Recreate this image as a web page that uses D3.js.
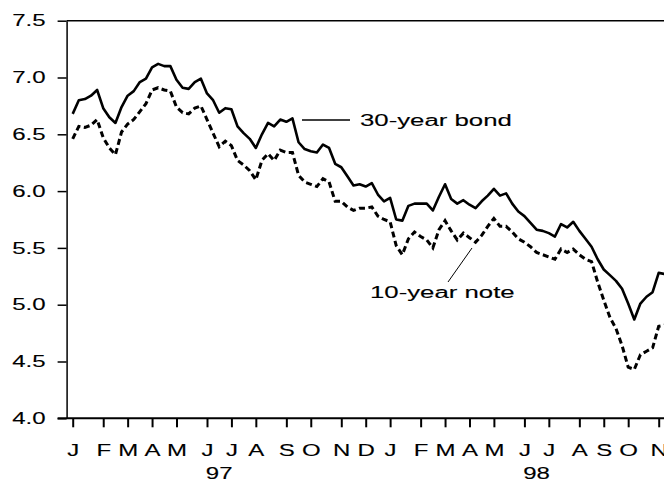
<!DOCTYPE html>
<html>
<head>
<meta charset="utf-8">
<script src="https://cdn.jsdelivr.net/npm/d3@7"></script>
<style>
body { margin: 0; background: #fff; }
text { font-family: "Liberation Sans", Arial, sans-serif; font-size: 16px; fill: #000; stroke: #000; stroke-width: 0.12px; }
.axis path, .axis line { stroke: #000; }
</style>
</head>
<body>
<script>
// weekly yields (Fridays), from 3 Jan 1997
var start_week = Date.UTC(1997, 0, 3);

var bond30 = [6.68, 6.80, 6.81, 6.84, 6.89, 6.73, 6.65, 6.60, 6.74, 6.84,
    6.88, 6.96, 6.99, 7.09, 7.12, 7.10, 7.10, 6.98, 6.91, 6.90,
    6.96, 6.99, 6.86, 6.80, 6.69, 6.73, 6.72, 6.57, 6.51, 6.46,
    6.38, 6.50, 6.60, 6.57, 6.63, 6.61, 6.64, 6.43, 6.37, 6.35,
    6.34, 6.41, 6.38, 6.24, 6.21, 6.13, 6.05, 6.06, 6.04, 6.07,
    5.97, 5.91, 5.94, 5.75, 5.74, 5.87, 5.89, 5.89, 5.89, 5.83,
    5.95, 6.06, 5.93, 5.89, 5.92, 5.88, 5.85, 5.91, 5.96, 6.02,
    5.96, 5.98, 5.89, 5.82, 5.78, 5.72, 5.66, 5.65, 5.63, 5.60,
    5.71, 5.68, 5.73, 5.65, 5.58, 5.51, 5.40, 5.31, 5.26, 5.21,
    5.14, 5.01, 4.87, 5.01, 5.07, 5.11, 5.28, 5.27];

var note10 = [6.46, 6.57, 6.56, 6.58, 6.63, 6.47, 6.38, 6.32, 6.52, 6.59,
    6.63, 6.70, 6.77, 6.89, 6.91, 6.89, 6.88, 6.74, 6.69, 6.68,
    6.73, 6.75, 6.63, 6.51, 6.39, 6.44, 6.40, 6.27, 6.23, 6.18,
    6.10, 6.27, 6.33, 6.27, 6.36, 6.34, 6.34, 6.14, 6.08, 6.06,
    6.04, 6.11, 6.08, 5.91, 5.91, 5.86, 5.83, 5.85, 5.85, 5.86,
    5.78, 5.75, 5.73, 5.52, 5.44, 5.58, 5.64, 5.60, 5.57, 5.50,
    5.66, 5.74, 5.65, 5.57, 5.63, 5.59, 5.55, 5.61, 5.69, 5.76,
    5.69, 5.69, 5.64, 5.58, 5.55, 5.51, 5.46, 5.44, 5.42, 5.40,
    5.49, 5.46, 5.49, 5.44, 5.40, 5.38, 5.20, 5.04, 4.89, 4.79,
    4.64, 4.45, 4.43, 4.56, 4.59, 4.62, 4.81, 4.82];

var y_ticks = [4.0, 4.5, 5.0, 5.5, 6.0, 6.5, 7.0, 7.5];
var month_letters = ["J", "F", "M", "A", "M", "J", "J", "A", "S", "O", "N", "D"];
var years = [{label: "97", year: 1997}, {label: "98", year: 1998}];
var series_labels = ["30-year bond", "10-year note"];

var width = 664,
    height = 480;

var x0 = 66.6, x1 = 658.7,
    y_top = 20.7, y_bot = 418.3;

var x = d3.scaleUtc()
    .domain([new Date(Date.UTC(1996, 11, 27)), new Date(Date.UTC(1998, 10, 6))])
    .range([x0, x1]);

var y = d3.scaleLinear()
    .domain([4, 7.5])
    .range([y_bot, y_top]);

var weeks = bond30.map(function(d, i) { return d3.utcFriday.offset(new Date(start_week), i); });

// first Friday of each month
var month_ticks = d3.utcMonth.range(new Date(Date.UTC(1997, 0, 1)), new Date(Date.UTC(1998, 10, 2)))
    .map(function(m) { return d3.utcFriday.ceil(m); });

var svg = d3.select("body")
    .append("svg")
    .attr("width", width)
    .attr("height", height);

function stretch(sel, k) {
    sel.each(function() {
        var w = this.getComputedTextLength();
        d3.select(this).attr("textLength", w * k).attr("lengthAdjust", "spacingAndGlyphs");
    });
}

// frame
svg.append("line")
    .attr("x1", x0).attr("x2", width)
    .attr("y1", y_top).attr("y2", y_top)
    .attr("stroke", "#000").attr("stroke-width", 1.5);

var yAxis = svg.append("g")
    .attr("class", "axis")
    .attr("transform", "translate(" + x0 + ",0)")
    .call(d3.axisLeft(y)
        .tickValues(y_ticks)
        .tickSize(9)
        .tickSizeOuter(0)
        .tickPadding(12)
        .tickFormat(d3.format(".1f")));
yAxis.selectAll("line").attr("stroke-width", 1.5);
yAxis.select(".domain").attr("stroke-width", 1.5);
yAxis.selectAll("text").attr("font-size", 16).attr("font-family", null).call(stretch, 1.5);

var xAxis = svg.append("g")
    .attr("class", "axis")
    .attr("transform", "translate(0," + y_bot + ")")
    .call(d3.axisBottom(x)
        .tickValues(month_ticks)
        .tickSize(9)
        .tickSizeOuter(0)
        .tickPadding(17)
        .tickFormat(function(d) { return month_letters[d.getUTCMonth()]; }));
xAxis.select(".domain").remove();
xAxis.selectAll("line").attr("stroke-width", 2);
xAxis.selectAll("text").attr("font-size", 16).attr("font-family", null).call(stretch, 1.5);

svg.append("line")
    .attr("x1", x0 - 9).attr("x2", width)
    .attr("y1", y_bot).attr("y2", y_bot)
    .attr("stroke", "#000").attr("stroke-width", 2);

// year labels between June and July ticks
svg.selectAll("text.year")
    .data(years)
    .enter()
    .append("text")
    .attr("class", "year")
    .attr("text-anchor", "middle")
    .attr("x", function(d) {
        var jun = d3.utcFriday.ceil(new Date(Date.UTC(d.year, 5, 1))),
            jul = d3.utcFriday.ceil(new Date(Date.UTC(d.year, 6, 1)));
        return (x(jun) + x(jul)) / 2;
    })
    .attr("y", 478.5)
    .text(function(d) { return d.label; })
    .call(stretch, 1.5);

var line = d3.line()
    .x(function(d) { return x(d.date); })
    .y(function(d) { return y(d.value); });

var bond_data = weeks.map(function(d, i) { return {date: d, value: bond30[i]}; });
var note_data = weeks.map(function(d, i) { return {date: d, value: note10[i]}; });

svg.append("path")
    .datum(note_data)
    .attr("d", line)
    .attr("fill", "none")
    .attr("stroke", "#000")
    .attr("stroke-width", 3)
    .attr("stroke-dasharray", "6,3.5");

svg.append("path")
    .datum(bond_data)
    .attr("d", line)
    .attr("fill", "none")
    .attr("stroke", "#000")
    .attr("stroke-width", 2.6)
    .attr("stroke-linejoin", "round");

// labels
svg.append("line")
    .attr("x1", 302).attr("x2", 350)
    .attr("y1", 120).attr("y2", 120)
    .attr("stroke", "#000").attr("stroke-width", 1.5);

svg.append("text")
    .attr("x", 360)
    .attr("y", 126)
    .text(series_labels[0])
    .call(stretch, 1.61);

svg.append("line")
    .attr("x1", 472).attr("y1", 248)
    .attr("x2", 448).attr("y2", 282)
    .attr("stroke", "#000").attr("stroke-width", 1);

svg.append("text")
    .attr("x", 370)
    .attr("y", 298)
    .text(series_labels[1])
    .call(stretch, 1.61);
</script>
</body>
</html>
